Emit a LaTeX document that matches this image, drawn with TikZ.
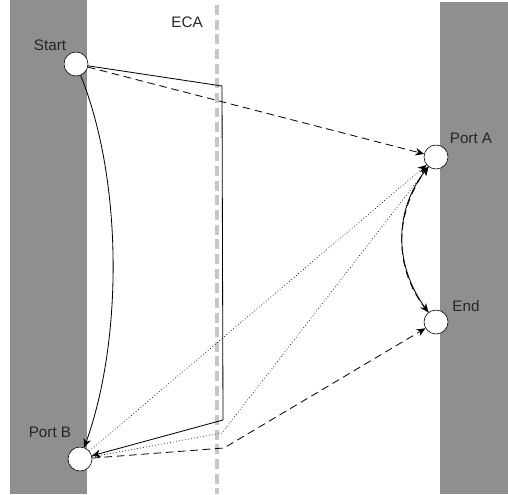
\documentclass[tikz,border=0pt]{standalone}
\usepackage{fontspec}
\setmainfont{Liberation Sans}
\usetikzlibrary{arrows.meta}

\begin{document}
\begin{tikzpicture}[x=0.03cm, y=-0.03cm, >={Stealth[length=7.5pt,width=6.5pt]}]
  \colorlet{shore}{black!44}
  \colorlet{ecaline}{black!22}
  \tikzset{
    port/.style={circle, draw=black, fill=white, minimum size=24*0.03cm, inner sep=0pt, line width=0.5pt},
    lbl/.style={font=\fontsize{13}{15}\selectfont, text=black!85},
    longdash/.style={dash pattern=on 6.5pt off 4pt, line width=0.7pt},
    shortdot/.style={dotted, line width=0.6pt}
  }

  \useasboundingbox (0,0) rectangle (508,494);

  % land on both sides
  \fill[shore] (10,0) rectangle (87,494);
  \fill[shore] (440,2) rectangle (508,494);

  % emission control area boundary
  \draw[ecaline, line width=2.6pt, dash pattern=on 8.5pt off 4pt] (217,5) -- (217,494);
  \node[lbl] (eca) at (187,22) {ECA};

  \node[port] (start) at (76,64) {};
  \node[port] (portA) at (436,157) {};
  \node[port] (stop) at (436,322) {};
  \node[port] (portB) at (80,459) {};

  \node[lbl] at (50,45) {Start};
  \node[lbl] at (471,138) {Port A};
  \node[lbl] at (466,306) {End};
  \node[lbl] at (50,432) {Port B};

  \coordinate (c1) at (222,86);
  \coordinate (c2) at (223,420);
  \coordinate (e1) at (224,448);
  \coordinate (e2) at (222,433);

  % routes from the start
  \draw[->, line width=0.7pt] (start) -- (c1) -- (c2) -- (portB);
  \draw[->, line width=0.7pt] (start) .. controls (123,180) and (123,340) .. (portB);
  \draw[->, longdash] (start) -- (portA);

  % routes from port B
  \draw[->, longdash] (portB) -- (e1) -- (stop);
  \draw[->, shortdot] (portB) -- (portA);
  \draw[->, shortdot] (portB) -- (e2) -- (portA);

  % between port A and the end
  \draw[->, line width=0.7pt] (stop) to[bend left=38] (portA);
  \draw[->, longdash] (portA) to[bend right=38] (stop);
\end{tikzpicture}
\end{document}
